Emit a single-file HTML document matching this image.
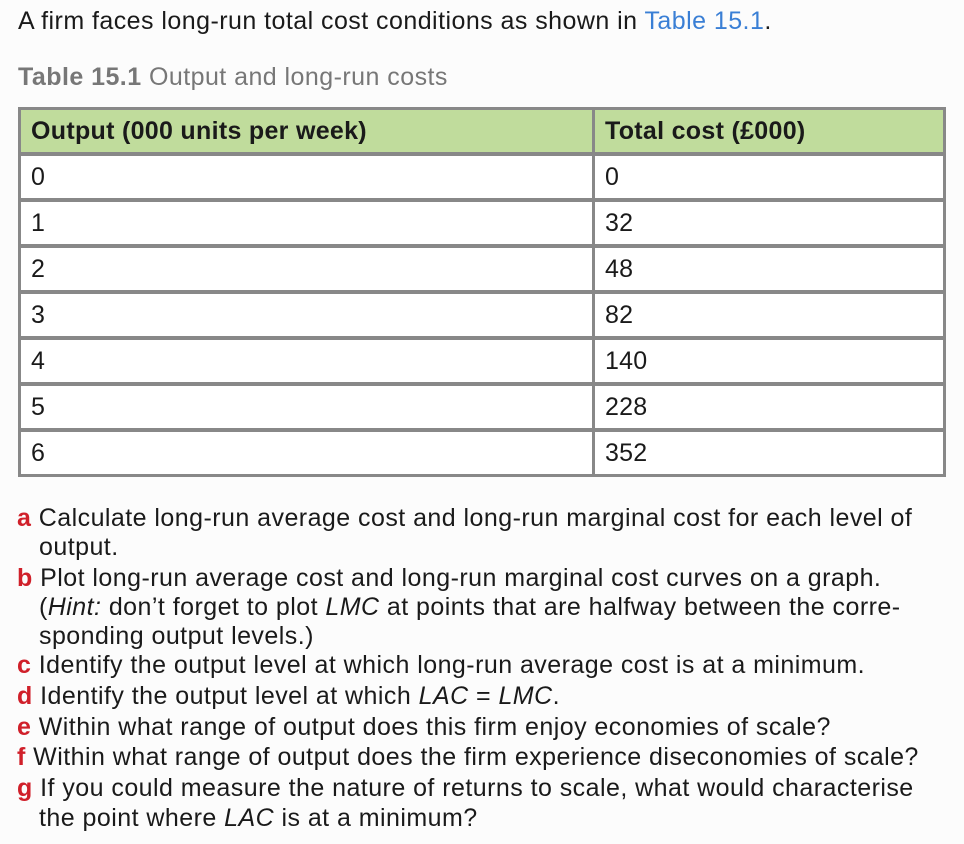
<!DOCTYPE html>
<html><head><style>
body{margin:0;width:964px;height:844px;background:#fcfcfc;font-family:"Liberation Sans",Arial,sans-serif;color:#1a1a1a;position:relative;overflow:hidden}
.a{position:absolute;white-space:nowrap;font-size:25px;letter-spacing:0.45px;line-height:30px}
.t{position:absolute;left:18px;top:107px;width:928px;height:370px;background:#888}
.c{position:absolute;background:#fff;font-size:25px;letter-spacing:0.2px;line-height:42px;padding-left:10px;box-sizing:border-box}
.h{background:#c0dc9c;font-weight:bold;letter-spacing:0.3px}
.r{color:#d0202a;font-weight:bold}
</style></head><body>
<div class="a" style="left:18px;top:6px">A firm faces long-run total cost conditions as shown in <span style="color:#3a7fd5">Table 15.1</span>.</div>
<div class="a" style="left:18px;top:62px;color:#777"><b>Table 15.1</b> Output and long-run costs</div>
<div class="t"></div>
<div id="cells"></div>
<div class="a" style="left:17px;top:503px"><span class="r">a</span> Calculate long-run average cost and long-run marginal cost for each level of</div>
<div class="a" style="left:39px;top:532px">output.</div>
<div class="a" style="left:17px;top:563px"><span class="r">b</span> Plot long-run average cost and long-run marginal cost curves on a graph.</div>
<div class="a" style="left:39px;top:592px">(<i>Hint:</i> don’t forget to plot <i>LMC</i> at points that are halfway between the corre-</div>
<div class="a" style="left:39px;top:621px">sponding output levels.)</div>
<div class="a" style="left:17px;top:650px"><span class="r">c</span> Identify the output level at which long-run average cost is at a minimum.</div>
<div class="a" style="left:17px;top:681px"><span class="r">d</span> Identify the output level at which <i>LAC</i> = <i>LMC</i>.</div>
<div class="a" style="left:17px;top:712px"><span class="r">e</span> Within what range of output does this firm enjoy economies of scale?</div>
<div class="a" style="left:17px;top:742px"><span class="r">f</span> Within what range of output does the firm experience diseconomies of scale?</div>
<div class="a" style="left:17px;top:773px"><span class="r">g</span> If you could measure the nature of returns to scale, what would characterise</div>
<div class="a" style="left:39px;top:803px">the point where <i>LAC</i> is at a minimum?</div>
<script>
var rows=[["Output (000 units per week)","Total cost (£000)"],["0","0"],["1","32"],["2","48"],["3","82"],["4","140"],["5","228"],["6","352"]];
var h="";
for(var i=0;i<8;i++){var y=110+i*46;
h+='<div class="c'+(i==0?' h':'')+'" style="left:21px;top:'+y+'px;width:571px;height:42px">'+rows[i][0]+'</div>';
h+='<div class="c'+(i==0?' h':'')+'" style="left:595px;top:'+y+'px;width:348px;height:42px">'+rows[i][1]+'</div>';}
document.getElementById("cells").innerHTML=h;
</script>
</body></html>
